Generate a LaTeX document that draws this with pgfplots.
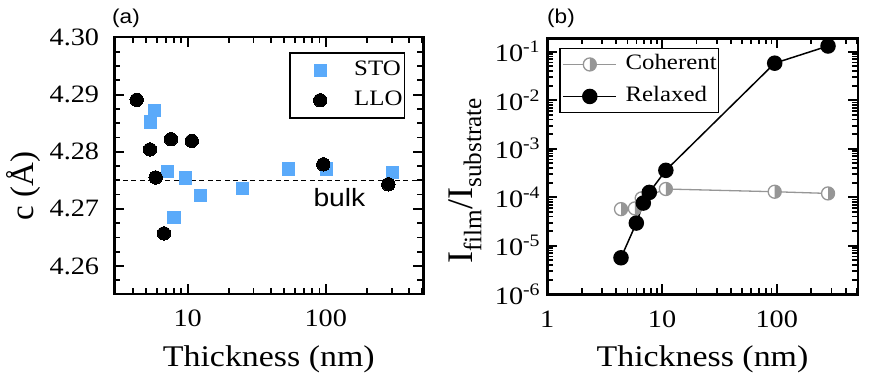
\documentclass[border=0pt]{standalone}
\usepackage{fontspec}
\setmainfont{Liberation Serif}[FakeStretch=1.13]
\newfontfamily\serifns{Liberation Serif}
\newfontfamily\sansf{Liberation Sans}[FakeStretch=1.13]
\usepackage{pgfplots}
\pgfplotsset{compat=1.18}
\definecolor{stoblue}{RGB}{90,170,250}
\definecolor{cohgray}{RGB}{150,150,150}
\pgfdeclareplotmark{halfright}{%
  \pgfpathcircle{\pgfpointorigin}{\pgfplotmarksize}%
  \pgfsetfillcolor{white}\pgfusepathqfill
  \pgfpathmoveto{\pgfqpoint{0pt}{\pgfplotmarksize}}%
  \pgfpatharc{90}{-90}{\pgfplotmarksize}%
  \pgfpathclose
  \pgfsetfillcolor{cohgray}\pgfusepathqfill
  \pgfpathcircle{\pgfpointorigin}{\pgfplotmarksize}%
  \pgfusepathqstroke
}
\pgfplotsset{
  common/.style={
    scale only axis, anchor=south west,
    axis line style={line width=2.4pt},
    every tick/.style={line width=1.8pt, black},
    major tick length=10pt, minor tick length=6pt,
    tick label style={font=\fontsize{25}{25}\selectfont, inner sep=0pt},
    xticklabel style={yshift=-16pt},
    xlabel style={font=\fontsize{30}{30}\selectfont, at={(axis description cs:0.5,0)}, anchor=base, yshift=-72pt},
  }
}
\begin{document}
\begin{tikzpicture}
\useasboundingbox (0pt,0pt) rectangle (873pt,381pt);
% ---------------- panel (a)
\begin{axis}[common,
  at={(114.3pt,87pt)}, width=309pt, height=257pt,
  xmode=log, xmin=2.94, xmax=509, ymin=4.25509, ymax=4.3001,
  xtick={10,100}, xticklabels={10,100},
  minor xtick={3,4,5,6,7,8,9,20,30,40,50,60,70,80,90,200,300,400,500},
  ytick={4.26,4.27,4.28,4.29,4.30}, yticklabels={4.26,4.27,4.28,4.29,4.30},
  minor ytick={4.2575,4.2625,4.265,4.2675,4.2725,4.275,4.2775,4.2825,4.285,4.2875,4.2925,4.295,4.2975},
  yticklabel style={xshift=-15pt},
  xlabel={Thickness (nm)},
  ylabel={\serifns c (Å)},
  ylabel style={font=\fontsize{33}{33}\selectfont, at={(axis description cs:0,0.42)}, anchor=base, yshift=81pt},
  legend style={at={(1,1)}, anchor=north east, xshift=-18pt, yshift=-15pt,
    draw=black, line width=1.5pt, inner xsep=0pt, inner ysep=2.5pt,
    font=\fontsize{22}{22}\selectfont,
    nodes={inner xsep=2pt, inner ysep=5pt, text height=15pt, text depth=5pt}},
  legend cell align=left,
  legend image code/.code={\path (0pt,0pt) (62pt,0pt);
    \draw[mark repeat=2,mark phase=2] plot coordinates {(0pt,0pt)(30pt,0pt)(60pt,0pt)};},
]
\addplot[draw=none, only marks, mark=square*, mark size=6.2pt, mark options={draw=stoblue, fill=stoblue, line width=0pt}]
coordinates {
(5.73,4.2872) (5.36,4.2852) (7.16,4.2765) (7.96,4.2685) (9.6,4.2754)
(12.4,4.2723) (25.0,4.2736) (53.6,4.2770) (101,4.2770) (304,4.2764)
};
\addlegendentry{STO}
\addplot[draw=none, only marks, mark=*, mark size=6.7pt, mark options={draw=black, fill=black, line width=0pt}]
coordinates {
(4.27,4.2891) (5.33,4.2804) (5.86,4.2755) (6.73,4.2657) (7.57,4.2822)
(10.7,4.2819) (96,4.2778) (284,4.2743)
};
\addlegendentry{LLO}
\addplot[black, line width=1.2pt, dash pattern=on 5pt off 3.5pt, forget plot] coordinates {(2.94,4.275) (509,4.275)};
\node[font=\sansf\fontsize{25}{25}\selectfont, anchor=base west, inner sep=0pt] at (axis cs:81.3,4.2704) {bulk};
\end{axis}
% ---------------- panel (b)
\begin{axis}[common,
  at={(547.3pt,86.7pt)}, width=310.4pt, height=256pt,
  xmode=log, ymode=log, xmin=1, xmax=508, ymin=1e-6, ymax=0.189,
  xtick={1,10,100}, xticklabels={1,10,100},
  minor xtick={2,3,4,5,6,7,8,9,20,30,40,50,60,70,80,90,200,300,400,500},
  ytick={1e-6,1e-5,1e-4,1e-3,1e-2,1e-1},
  yticklabels={10\textsuperscript{-6},10\textsuperscript{-5},10\textsuperscript{-4},10\textsuperscript{-3},10\textsuperscript{-2},10\textsuperscript{-1}},
  minor ytick={2e-6,3e-6,4e-6,5e-6,6e-6,7e-6,8e-6,9e-6,
               2e-5,3e-5,4e-5,5e-5,6e-5,7e-5,8e-5,9e-5,
               2e-4,3e-4,4e-4,5e-4,6e-4,7e-4,8e-4,9e-4,
               2e-3,3e-3,4e-3,5e-3,6e-3,7e-3,8e-3,9e-3,
               2e-2,3e-2,4e-2,5e-2,6e-2,7e-2,8e-2,9e-2},
  yticklabel style={xshift=-7pt},
  xlabel={Thickness (nm)},
  ylabel={\serifns I\textsubscript{film}/I\textsubscript{substrate}},
  ylabel style={font=\fontsize{36}{36}\selectfont, at={(axis description cs:0,0.444)}, anchor=base, yshift=75pt},
  legend style={at={(0,1)}, anchor=north west, xshift=12pt, yshift=-9.4pt,
    draw=black, line width=1.5pt, inner xsep=0pt, inner ysep=0pt,
    font=\fontsize{22}{22}\selectfont,
    nodes={inner xsep=2pt, inner ysep=5pt, text height=16pt, text depth=6pt}},
  legend cell align=left,
  legend image code/.code={\path (0pt,0pt) (62pt,0pt);
    \draw[mark repeat=2,mark phase=2] plot coordinates {(2pt,0pt)(29pt,0pt)(55pt,0pt)};},
]
\addplot[cohgray, line width=1.3pt, mark=halfright, mark size=6.5pt, mark options={draw=cohgray, line width=1.3pt}]
coordinates {
(4.39,5.7e-5) (5.8,5.9e-5) (6.65,9.5e-5) (10.8,1.48e-4) (96,1.30e-4) (280,1.20e-4)
};
\addlegendentry{Coherent}
\addplot[black, line width=1.5pt, mark=*, mark size=7pt, mark options={fill=black}]
coordinates {
(4.39,5.66e-6) (5.97,2.94e-5) (6.87,7.6e-5) (7.75,1.26e-4) (10.8,3.59e-4) (96,0.058) (280,0.131)
};
\addlegendentry{Relaxed}
\end{axis}
\node[font=\sansf\fontsize{20}{20}\selectfont, anchor=base west, inner sep=0pt] at (112pt,357pt) {(a)};
\node[font=\sansf\fontsize{20}{20}\selectfont, anchor=base west, inner sep=0pt] at (547pt,357pt) {(b)};
\end{tikzpicture}
\end{document}
